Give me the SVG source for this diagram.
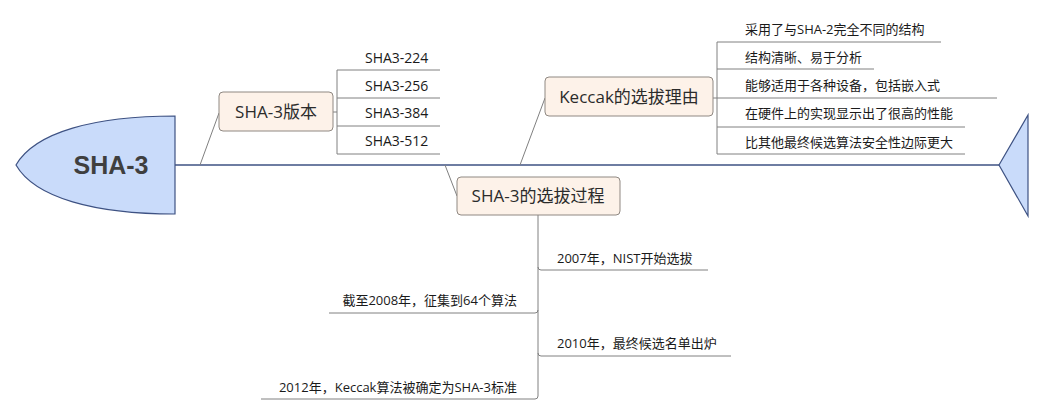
<svg xmlns="http://www.w3.org/2000/svg" width="1048" height="415" viewBox="0 0 1048 415">
<style>
.t{font-family:"Open Sans","Noto Sans CJK SC",sans-serif;font-size:13px;fill:#1a1a1a}
.v{font-family:"Open Sans","Noto Sans CJK SC",sans-serif;font-size:14px;fill:#1a1a1a}
.m{font-family:"Open Sans","Noto Sans CJK SC",sans-serif;font-size:17px;fill:#2b2b2b;text-anchor:middle}
.box{fill:#fdf2e9;stroke:#8f8882;stroke-width:1}
.ln{fill:none;stroke:#808080;stroke-width:1}
.fish{fill:#c9dbfa;stroke:#3e5283;stroke-width:1.2}
</style>
<rect width="1048" height="415" fill="#ffffff"/>
<g id="connectors">
<line x1="175" y1="165" x2="999" y2="165" stroke="#3e5283" stroke-width="1.5"/>
<path class="ln" d="M200,165 L219,113"/>
<path class="ln" d="M333,112 H337 M337,70 V154 M337,70 H440 M337,98 H440 M337,126 H440 M337,154 H440"/>
<path class="ln" d="M520,165 L545,98"/>
<path class="ln" d="M713,98 H717 M717,42 V154 M717,42 H941 M717,69 H874 M717,98 H997 M717,127 H965 M717,154 H965"/>
<path class="ln" d="M445,165 L457,196"/>
<path class="ln" d="M538,215 V396 Q538,399 535,399 H261 M538,267 Q538,270 541,270 H708 M538,310 Q538,313 535,313 H329 M538,353 Q538,356 541,356 H731"/>
</g>
<g id="head">
<path class="fish" d="M175,116 C95,116 35,132 16,165 C35,198 95,214 175,214 Z"/>
<text x="111" y="174" font-family="'Liberation Sans','Noto Sans CJK SC',sans-serif" font-size="25" font-weight="bold" fill="#3f3f3f" text-anchor="middle">SHA-3</text>
</g>
<g id="tail">
<path class="fish" d="M999,165 L1028,115 L1028,216 Z"/>
</g>
<g id="versions">
<rect class="box" x="219" y="92" width="114" height="39" rx="4"/>
<text class="m" x="276" y="118">SHA-3版本</text>
</g>
<g id="v224"><text class="v" x="365" y="63">SHA3-224</text></g>
<g id="v256"><text class="v" x="365" y="91">SHA3-256</text></g>
<g id="v384"><text class="v" x="365" y="118">SHA3-384</text></g>
<g id="v512"><text class="v" x="365" y="146">SHA3-512</text></g>
<g id="reasons">
<rect class="box" x="545" y="77" width="168" height="39" rx="4"/>
<text class="m" x="629" y="103">Keccak的选拔理由</text>
</g>
<g id="r1"><text class="t" x="745" y="34">采用了与SHA-2完全不同的结构</text></g>
<g id="r2"><text class="t" x="745" y="62">结构清晰、易于分析</text></g>
<g id="r3"><text class="t" x="745" y="90">能够适用于各种设备，包括嵌入式</text></g>
<g id="r4"><text class="t" x="745" y="118">在硬件上的实现显示出了很高的性能</text></g>
<g id="r5"><text class="t" x="745" y="147">比其他最终候选算法安全性边际更大</text></g>
<g id="process">
<rect class="box" x="457" y="177" width="163" height="38" rx="4"/>
<text class="m" x="538" y="202">SHA-3的选拔过程</text>
</g>
<g id="p2007"><text class="t" x="557" y="263">2007年，NIST开始选拔</text></g>
<g id="p2008"><text class="t" x="517" y="305" text-anchor="end">截至2008年，征集到64个算法</text></g>
<g id="p2010"><text class="t" x="557" y="348">2010年，最终候选名单出炉</text></g>
<g id="p2012"><text class="t" x="517" y="392" text-anchor="end">2012年，Keccak算法被确定为SHA-3标准</text></g>
</svg>
